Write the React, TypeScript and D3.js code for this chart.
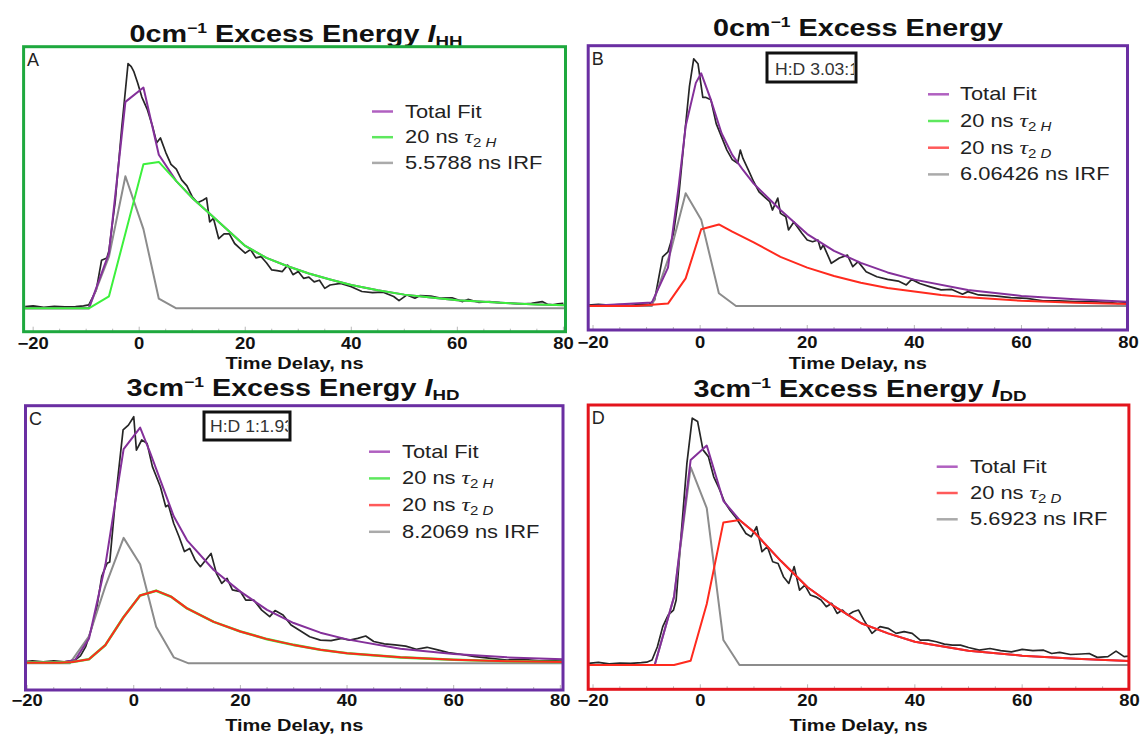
import * as d3 from "d3";

// Panel A  (0 cm-1, I_HH)
const aDataT = [-21.5, -20, -18, -16, -14, -12, -10.5, -9.5, -8.1, -7.1, -6.1, -5.7, -4.5, -3.3, -2.1, -1.5, -1, -0.3, 0.5, 1.5, 2.5, 3.3, 4, 5, 6, 7, 8, 9, 10, 11, 12, 12.7, 13.3, 14, 15, 16, 17, 18, 19, 20, 21, 22, 23, 24, 25, 26, 27, 28, 29, 30, 31, 32, 33, 34, 35, 36, 38, 40, 42, 44, 46, 48, 49, 50.5, 52, 53, 55, 57, 59, 61, 62, 64, 66, 68, 70, 72, 74, 76, 77, 78, 79, 80];
const aDataY = [0.007, 0.01, 0.004, 0.008, 0.006, 0.007, 0.01, 0.014, 0.076, 0.2, 0.21, 0.24, 0.45, 0.75, 1.02, 1.007, 0.986, 0.94, 0.88, 0.83, 0.76, 0.69, 0.71, 0.65, 0.6, 0.58, 0.535, 0.51, 0.465, 0.44, 0.45, 0.46, 0.36, 0.375, 0.29, 0.31, 0.31, 0.27, 0.25, 0.23, 0.245, 0.21, 0.215, 0.19, 0.16, 0.157, 0.153, 0.18, 0.14, 0.153, 0.125, 0.13, 0.11, 0.117, 0.083, 0.097, 0.104, 0.09, 0.07, 0.065, 0.067, 0.049, 0.032, 0.056, 0.042, 0.053, 0.051, 0.042, 0.044, 0.028, 0.037, 0.025, 0.028, 0.024, 0.021, 0.018, 0.021, 0.028, 0.017, 0.014, 0.019, 0.021];
const aFitT = [-21.8, -9.5, -5.7, -2.6, 0.8, 3.7, 7, 10, 13, 16, 20, 24, 28, 32, 36, 40, 45, 50, 55, 60, 65, 70, 75, 80.4];
const aFitY = [0, 0, 0.23, 0.86, 0.92, 0.64, 0.53, 0.46, 0.4, 0.34, 0.26, 0.21, 0.175, 0.145, 0.12, 0.097, 0.075, 0.057, 0.045, 0.034, 0.027, 0.021, 0.016, 0.013];
const aCompT = [-21.8, -9.5, -5.7, 0.8, 3.7, 7, 10, 13, 16, 20, 24, 28, 32, 36, 40, 45, 50, 55, 60, 65, 70, 75, 80.4];
const aCompY = [0, 0, 0.05, 0.6, 0.61, 0.53, 0.46, 0.4, 0.34, 0.26, 0.21, 0.175, 0.145, 0.12, 0.097, 0.075, 0.057, 0.045, 0.034, 0.027, 0.021, 0.016, 0.013];
const aIrfT = [-21.8, -9.5, -5.7, -2.6, 0.8, 3.7, 7, 80.4];
const aIrfY = [0, 0, 0.215, 0.55, 0.33, 0.04, 0, 0];

// Panel B  (0 cm-1, H:D 3.03:1)
const bDataT = [-20.9, -19, -17, -15, -13, -11, -9.5, -8.5, -7, -6, -5, -4, -3, -2, -1.2, -0.4, 0.5, 1, 2, 3, 4, 5, 6, 7, 7.5, 8, 9, 10, 11, 12, 13, 13.5, 14.5, 15, 16, 16.5, 17.5, 19, 20, 21, 22, 22.5, 23, 24.5, 26, 27.5, 28.5, 29.5, 31, 33, 35, 37, 38.5, 39.5, 41, 43, 45, 47, 49, 50, 52, 55, 58, 61, 64, 67, 70, 73, 76, 78, 79.8];
const bDataY = [0.004, 0.007, 0.004, 0.006, 0.003, 0.007, 0.008, 0.025, 0.205, 0.226, 0.3, 0.456, 0.69, 0.914, 1.03, 1.01, 0.87, 0.87, 0.86, 0.76, 0.705, 0.65, 0.61, 0.595, 0.65, 0.615, 0.567, 0.518, 0.476, 0.455, 0.435, 0.4, 0.45, 0.386, 0.372, 0.317, 0.35, 0.303, 0.275, 0.268, 0.275, 0.236, 0.254, 0.178, 0.2, 0.212, 0.164, 0.185, 0.143, 0.122, 0.111, 0.104, 0.088, 0.111, 0.094, 0.08, 0.067, 0.069, 0.049, 0.06, 0.046, 0.042, 0.035, 0.032, 0.022, 0.021, 0.018, 0.018, 0.015, 0.011, 0.014];
const bFitT = [-20.9, -9, -6, -4, -2.7, -0.8, 0.2, 2, 4, 6, 8, 10, 15, 20, 25, 30, 35, 40, 50, 60, 70, 79.8];
const bFitY = [0, 0.015, 0.16, 0.5, 0.75, 0.93, 0.97, 0.86, 0.72, 0.63, 0.567, 0.51, 0.4, 0.3, 0.23, 0.18, 0.14, 0.11, 0.067, 0.042, 0.028, 0.018];
const bCompT = [-20.9, -12, -6, -2.7, 0.2, 3.5, 6, 10, 15, 20, 25, 30, 35, 40, 45, 50, 60, 70, 79.8];
const bCompY = [0, 0, 0.01, 0.115, 0.32, 0.34, 0.31, 0.265, 0.205, 0.16, 0.125, 0.097, 0.075, 0.06, 0.046, 0.036, 0.022, 0.014, 0.008];
const bIrfT = [-20.9, -9, -5.6, -2.7, 0.2, 3.5, 6.7, 79.8];
const bIrfY = [0, 0, 0.22, 0.47, 0.36, 0.053, 0, 0];

// Panel C  (3 cm-1, I_HD)
const cDataT = [-20.3, -19, -17, -15, -13, -11, -10, -9, -8, -7, -6, -5, -4.5, -3.5, -2, -1, 0, 0.5, 1.5, 2.5, 3.5, 5, 6, 6.5, 7.5, 8.5, 9.5, 10.5, 11.5, 12.5, 13.5, 14.5, 15.5, 16.5, 17.5, 18.5, 20, 21, 22.5, 24, 25.5, 26.5, 28, 29.5, 31, 33, 35, 37, 39, 40.5, 42, 43.5, 45, 47, 49, 51, 53, 55, 57, 59, 61, 64, 67, 70, 73, 76, 80.5];
const cDataY = [0.004, 0.008, 0.003, 0.007, 0.003, 0.011, 0.028, 0.067, 0.136, 0.22, 0.36, 0.414, 0.42, 0.664, 0.97, 0.99, 1.025, 0.886, 0.928, 0.914, 0.817, 0.733, 0.65, 0.657, 0.58, 0.525, 0.463, 0.476, 0.428, 0.4, 0.428, 0.455, 0.372, 0.33, 0.351, 0.303, 0.296, 0.261, 0.261, 0.219, 0.192, 0.217, 0.199, 0.157, 0.136, 0.108, 0.094, 0.092, 0.101, 0.094, 0.101, 0.111, 0.088, 0.078, 0.074, 0.069, 0.056, 0.064, 0.053, 0.042, 0.036, 0.025, 0.018, 0.011, 0.014, 0.008, 0.011];
const cFitT = [-20.3, -13, -11, -8.4, -5.3, -1.9, 1.2, 3, 5, 7.5, 10, 15, 20, 25, 30, 35, 40, 50, 60, 70, 80.5];
const cFitY = [0.003, 0.003, 0.011, 0.1, 0.41, 0.89, 0.98, 0.88, 0.76, 0.61, 0.51, 0.386, 0.296, 0.22, 0.165, 0.125, 0.097, 0.058, 0.036, 0.022, 0.014];
const cCompT = [-20.3, -14, -11.5, -8.4, -5.3, -1.9, 1.2, 4.2, 7, 10, 15, 20, 25, 30, 35, 40, 50, 60, 70, 80.5];
const cCompY = [0, 0, 0.003, 0.014, 0.074, 0.19, 0.28, 0.3, 0.275, 0.226, 0.17, 0.13, 0.098, 0.074, 0.054, 0.039, 0.022, 0.012, 0.006, 0.003];
const cIrfT = [-20.3, -12, -8.4, -5.3, -1.9, 1.2, 4.2, 7.5, 10.3, 80.5];
const cIrfY = [-0.003, -0.003, 0.11, 0.32, 0.52, 0.41, 0.15, 0.022, -0.003, -0.003];

// Panel D  (3 cm-1, I_DD)
const dDataT = [-20.9, -19, -17, -15, -13, -11, -10, -9, -8, -7, -6, -5, -4.5, -3.5, -2.5, -1.5, -0.5, 0.5, 1.5, 2.5, 3.5, 4.5, 5.5, 6.5, 7.5, 8.5, 9.5, 10.5, 11.5, 12.5, 13.5, 14.5, 15.5, 16.5, 17.5, 18.5, 19.5, 20.5, 21.5, 22.5, 23.5, 24.5, 25.5, 26.5, 27.5, 28.5, 29.5, 30.5, 32, 33.5, 35, 36.5, 38, 39.5, 41, 42.5, 44, 45.5, 47, 48.5, 50, 52, 54, 56, 58, 60, 62, 64, 65.5, 67, 69, 71, 72.5, 74, 76, 77.5, 79, 79.9];
const dDataY = [0.003, 0.007, 0.001, 0.004, 0.003, 0.006, 0.008, 0.017, 0.072, 0.156, 0.204, 0.225, 0.267, 0.558, 0.836, 1.024, 1.01, 0.892, 0.864, 0.78, 0.732, 0.676, 0.642, 0.614, 0.579, 0.544, 0.53, 0.572, 0.468, 0.489, 0.426, 0.419, 0.364, 0.336, 0.406, 0.308, 0.329, 0.288, 0.28, 0.267, 0.239, 0.253, 0.211, 0.225, 0.204, 0.218, 0.225, 0.183, 0.128, 0.156, 0.149, 0.128, 0.135, 0.128, 0.1, 0.1, 0.093, 0.083, 0.079, 0.079, 0.069, 0.058, 0.065, 0.056, 0.051, 0.061, 0.056, 0.058, 0.044, 0.049, 0.04, 0.042, 0.044, 0.028, 0.031, 0.054, 0.031, 0.033];
const dFitT = [-20.9, -8.5, -4.9, -1.8, 1.2, 4.3, 7.3, 10, 15, 20, 25, 30, 35, 40, 50, 60, 70, 79.9];
const dFitY = [-0.004, -0.004, 0.28, 0.85, 0.91, 0.68, 0.6, 0.55, 0.43, 0.32, 0.24, 0.17, 0.128, 0.093, 0.056, 0.035, 0.022, 0.0125];
const dCompT = [-20.9, -4.9, -1.8, 1.2, 4.3, 7.3, 10, 15, 20, 25, 30, 35, 40, 50, 60, 70, 79.9];
const dCompY = [-0.004, -0.004, 0.014, 0.25, 0.59, 0.6, 0.55, 0.43, 0.32, 0.24, 0.17, 0.128, 0.093, 0.056, 0.035, 0.022, 0.0125];
const dIrfT = [-20.9, -8.5, -4.9, -1.8, 1.2, 4.3, 7.3, 79.9];
const dIrfY = [-0.004, -0.004, 0.28, 0.82, 0.65, 0.1, -0.004, -0.004];

const xTicks = [-20, 0, 20, 40, 60, 80];
const xMinorTicks = d3.range(-20, 81, 5);

const FONT = "'Liberation Sans', Arial, Helvetica, sans-serif";
const C_DATA = "#262626";
const C_FIT = "#84309a";
const C_H = "#3cf03c";
const C_D = "#ff2a1e";
const C_IRF = "#8c8c8c";
const LEG = { fit: "#b060c0", h: "#5ee85e", d: "#ff5a5a", irf: "#aaaaaa" };

const zip = (t: number[], y: number[]) => t.map((v, i) => [v, y[i]] as [number, number]);

const panels = [
  {
    id: "A", letter: "A", energy: "0", frameColor: "#1ea83e",
    frame: { x0: 23.6, x1: 565.5, y0: 46.7, y1: 331.7 },
    xDomain: [-21.8, 80.4], yDomain: [-0.0975, 1.09],
    title: { x: 296, y: 42, sub: "HH" }, tickY: 349, axisY: 369,
    lines: [
      { pts: zip(aDataT, aDataY), color: C_DATA, w: 1.7 },
      { pts: zip(aIrfT, aIrfY), color: C_IRF, w: 2 },
      { pts: zip(aFitT, aFitY), color: C_FIT, w: 2 },
      { pts: zip(aCompT, aCompY), color: C_H, w: 2 },
    ],
    legend: { sx: 372, tx: 405, y0: 111.5, dy: 25.7, items: [
      { color: LEG.fit, label: "Total Fit" },
      { color: LEG.h, label: "20 ns ", tau: "H" },
      { color: LEG.irf, label: "5.5788 ns IRF" },
    ] },
    box: null,
  },
  {
    id: "B", letter: "B", energy: "0", frameColor: "#6a2ea2",
    frame: { x0: 588.2, x1: 1127.5, y0: 45.7, y1: 330 },
    xDomain: [-20.9, 79.8], yDomain: [-0.1, 1.085],
    title: { x: 858, y: 36, sub: null }, tickY: 348, axisY: 369,
    lines: [
      { pts: zip(bDataT, bDataY), color: C_DATA, w: 1.7 },
      { pts: zip(bIrfT, bIrfY), color: C_IRF, w: 2 },
      { pts: zip(bFitT, bFitY), color: C_FIT, w: 2 },
      { pts: zip(bCompT, bCompY), color: C_D, w: 2 },
    ],
    legend: { sx: 928, tx: 960, y0: 94.3, dy: 26.7, items: [
      { color: LEG.fit, label: "Total Fit" },
      { color: LEG.h, label: "20 ns ", tau: "H" },
      { color: LEG.d, label: "20 ns ", tau: "D" },
      { color: LEG.irf, label: "6.06426 ns IRF" },
    ] },
    box: { x: 767, y: 53, w: 89, h: 29, tx: 775, ty: 75, text: "H:D 3.03:1" },
  },
  {
    id: "C", letter: "C", energy: "3", frameColor: "#6a2ea2",
    frame: { x0: 25.5, x1: 563, y0: 405.7, y1: 690 },
    xDomain: [-20.3, 80.5], yDomain: [-0.114, 1.071],
    title: { x: 293, y: 396, sub: "HD" }, tickY: 706, axisY: 731,
    lines: [
      { pts: zip(cDataT, cDataY), color: C_DATA, w: 1.7 },
      { pts: zip(cIrfT, cIrfY), color: C_IRF, w: 2 },
      { pts: zip(cFitT, cFitY), color: C_FIT, w: 2 },
      { pts: zip(cCompT, cCompY), color: C_H, w: 2.6 },
      { pts: zip(cCompT, cCompY), color: C_D, w: 2 },
    ],
    legend: { sx: 369, tx: 402, y0: 451.7, dy: 26.7, items: [
      { color: LEG.fit, label: "Total Fit" },
      { color: LEG.h, label: "20 ns ", tau: "H" },
      { color: LEG.d, label: "20 ns ", tau: "D" },
      { color: LEG.irf, label: "8.2069 ns IRF" },
    ] },
    box: { x: 204, y: 412, w: 86, h: 28, tx: 210, ty: 432, text: "H:D 1:1.93" },
  },
  {
    id: "D", letter: "D", energy: "3", frameColor: "#e3141c",
    frame: { x0: 588.2, x1: 1128.9, y0: 405, y1: 689.3 },
    xDomain: [-20.9, 79.9], yDomain: [-0.105, 1.079],
    title: { x: 860, y: 397, sub: "DD" }, tickY: 706, axisY: 731,
    lines: [
      { pts: zip(dDataT, dDataY), color: C_DATA, w: 1.7 },
      { pts: zip(dIrfT, dIrfY), color: C_IRF, w: 2 },
      { pts: zip(dFitT, dFitY), color: C_FIT, w: 2 },
      { pts: zip(dCompT, dCompY), color: C_D, w: 2 },
    ],
    legend: { sx: 936.7, tx: 970, y0: 466.7, dy: 26.3, items: [
      { color: LEG.fit, label: "Total Fit" },
      { color: LEG.d, label: "20 ns ", tau: "D" },
      { color: LEG.irf, label: "5.6923 ns IRF" },
    ] },
    box: null,
  },
];

// text drawn a little wider than its height suggests (the source picture is stretched sideways)
const SText = ({ x, y, sx = 1.25, anchor = "start", children, ...rest }: any) => (
  <text transform={`translate(${x},${y}) scale(${sx},1)`} textAnchor={anchor} fontFamily={FONT} {...rest}>
    {children}
  </text>
);

const Panel = ({ p }: { p: (typeof panels)[number] }) => {
  const { frame } = p;
  const x = d3.scaleLinear().domain(p.xDomain).range([frame.x0, frame.x1]);
  const y = d3.scaleLinear().domain(p.yDomain).range([frame.y1, frame.y0]);
  const line = d3.line<[number, number]>().x((d) => x(d[0])).y((d) => y(d[1]));
  const fmt = d3.format("d");
  const cx = (frame.x0 + frame.x1) / 2;
  return (
    <g>
      <defs>
        <clipPath id={`clip${p.id}`}>
          <rect x={frame.x0} y={frame.y0} width={frame.x1 - frame.x0} height={frame.y1 - frame.y0} />
        </clipPath>
        {p.box && (
          <clipPath id={`box${p.id}`}>
            <rect x={p.box.x} y={p.box.y} width={p.box.w - 2} height={p.box.h} />
          </clipPath>
        )}
      </defs>
      <SText x={p.title.x} y={p.title.y} anchor="middle" fontSize={23} fontWeight="bold" fill="#111">
        <tspan>{p.energy + "cm"}</tspan>
        <tspan fontSize={14} dy={-9}>{"\u22121"}</tspan>
        <tspan dy={9}>{" Excess Energy"}</tspan>
        {p.title.sub && <tspan fontStyle="italic">{" I"}</tspan>}
        {p.title.sub && <tspan fontSize={15} dy={4}>{p.title.sub}</tspan>}
      </SText>
      {xMinorTicks.map((t) => (
        <line key={t} x1={x(t)} x2={x(t)} y1={frame.y1} y2={frame.y1 - (t % 20 === 0 ? 5 : 3)} stroke="#b8b8b8" strokeWidth={1} />
      ))}
      <g clipPath={`url(#clip${p.id})`}>
        {p.lines.map((l, i) => (
          <path key={i} d={line(l.pts) || ""} fill="none" stroke={l.color} strokeWidth={l.w} strokeLinejoin="round" />
        ))}
      </g>
      <rect x={frame.x0} y={frame.y0} width={frame.x1 - frame.x0} height={frame.y1 - frame.y0} fill="none" stroke={p.frameColor} strokeWidth={3} />
      <text x={frame.x0 + 3.5} y={frame.y0 + 19} fontFamily={FONT} fontSize={18} fill="#222">{p.letter}</text>
      {xTicks.map((t) => (
        <SText key={t} x={x(t)} y={p.tickY} sx={1.15} anchor="middle" fontSize={16} fontWeight="bold" fill="#111">{fmt(t)}</SText>
      ))}
      <SText x={cx} y={p.axisY} anchor="middle" fontSize={16} fontWeight="bold" fill="#111">Time Delay, ns</SText>
      {p.legend.items.map((it: any, i: number) => {
        const ly = p.legend.y0 + i * p.legend.dy;
        return (
          <g key={i}>
            <line x1={p.legend.sx} x2={p.legend.sx + 21} y1={ly} y2={ly} stroke={it.color} strokeWidth={2.5} />
            <SText x={p.legend.tx} y={ly + 6} fontSize={17.5} fill="#222">
              <tspan>{it.label}</tspan>
              {it.tau && <tspan fontStyle="italic" fontFamily="'Liberation Serif', 'DejaVu Serif', serif" fontSize={19}>τ</tspan>}
              {it.tau && <tspan fontSize={12} dy={4}>{"2"}</tspan>}
              {it.tau && <tspan fontSize={12} fontStyle="italic">{" " + it.tau}</tspan>}
            </SText>
          </g>
        );
      })}
      {p.box && (
        <g>
          <rect x={p.box.x} y={p.box.y} width={p.box.w} height={p.box.h} fill="#fff" stroke="#111" strokeWidth={3} />
          <g clipPath={`url(#box${p.id})`}>
            <SText x={p.box.tx} y={p.box.ty} sx={1.1} fontSize={16} fill="#333">{p.box.text}</SText>
          </g>
        </g>
      )}
    </g>
  );
};

export default function App() {
  return (
    <svg width={1142} height={737} style={{ position: "absolute", left: 0, top: 0, display: "block", background: "#fff" }}>
      <rect width={1142} height={737} fill="#fff" />
      {panels.map((p) => (
        <Panel key={p.id} p={p} />
      ))}
    </svg>
  );
}
